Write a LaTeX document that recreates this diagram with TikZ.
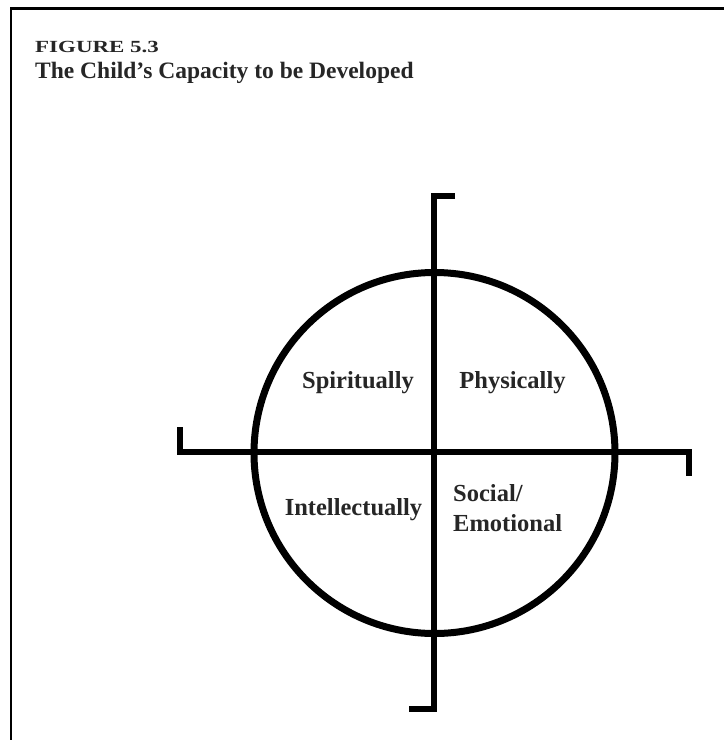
\documentclass[tikz,border=0pt]{standalone}
\usepackage{fontspec}
\setmainfont{Liberation Serif}
\begin{document}
\begin{tikzpicture}[x=1pt,y=-1pt,
  frameline/.style={line width=2.7pt},
  axisline/.style={line width=6.5pt, line join=miter, line cap=butt},
  ringline/.style={line width=7pt},
  quadlabel/.style={font=\bfseries\fontsize{24.5}{30}\selectfont, text=black!85, inner sep=0pt},
  titlelabel/.style={font=\bfseries\fontsize{23.5}{26}\selectfont, text=black!85, inner sep=0pt, anchor=west}]
\useasboundingbox (0,0) rectangle (724,740);
\fill[white] (0,0) rectangle (724,740);
% frame
\coordinate (fbl) at (11,740);
\coordinate (ftl) at (11,8.7);
\coordinate (ftr) at (724,8.7);
\draw[frameline] (fbl) -- (ftl) -- (ftr);
% titles
\node[titlelabel, font=\bfseries\fontsize{17}{19}\selectfont] (fig) at (35,47) {\scalebox{1.35}[1]{FIGURE 5.3}};
\node[titlelabel] (title) at (35,73) {The Child's Capacity to be Developed};
% circle
\coordinate (c) at (434.5,453);
\draw[ringline] (c) circle (180.5);
% horizontal axis
\coordinate (hl0) at (180,427);
\coordinate (hl) at (180,452);
\coordinate (hr) at (689,452);
\coordinate (hr0) at (689,476);
\draw[axisline] (hl0) -- (hl) -- (hr) -- (hr0);
% vertical axis
\coordinate (vt0) at (455,196);
\coordinate (vt) at (434,196);
\coordinate (vb) at (434,709);
\coordinate (vb0) at (409,709);
\draw[axisline] (vt0) -- (vt) -- (vb) -- (vb0);
% labels
\node[quadlabel] (spirit) at (358,383) {Spiritually};
\node[quadlabel] (phys) at (512.5,383) {Physically};
\node[quadlabel] (intel) at (353.5,510) {Intellectually};
\node[quadlabel, align=left, anchor=west] (soc) at (453,508) {Social/\\Emotional};
\end{tikzpicture}
\end{document}
